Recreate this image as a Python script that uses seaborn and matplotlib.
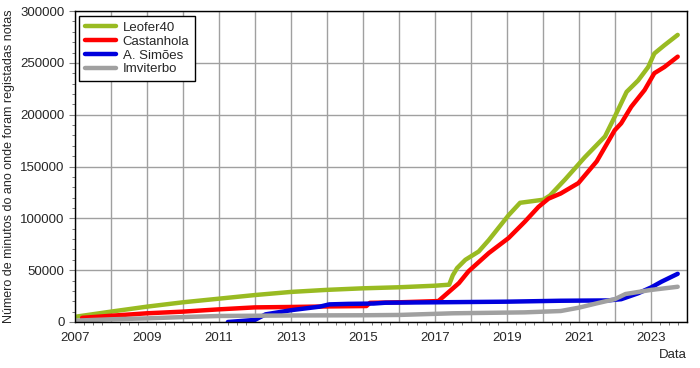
import pandas as pd
import seaborn as sns
import matplotlib.pyplot as plt
from matplotlib.ticker import MultipleLocator

# data (decimal year, cumulative minutes)
leofer_x = [2007.0, 2008.0, 2009.0, 2010.0, 2011.0, 2012.0, 2013.0, 2014.0, 2015.0, 2016.0, 2017.0, 2017.4,
            2017.5, 2017.62, 2017.85, 2018.22, 2018.5, 2019.05, 2019.37, 2020.02, 2020.2, 2020.62, 2021.17,
            2021.73, 2022.0, 2022.33, 2022.65, 2022.93, 2023.1, 2023.38, 2023.75]
leofer_y = [5000, 10000, 14800, 19000, 22500, 26000, 29000, 31000, 32500, 33500, 35000, 36000,
            45000, 52000, 60000, 68000, 79000, 103000, 115000, 118000, 122000, 137500, 159000,
            179000, 198000, 222000, 233000, 246000, 259000, 267000, 277000]

castanhola_x = [2007.2, 2008.0, 2009.0, 2010.0, 2011.0, 2012.0, 2013.0, 2014.0, 2015.1, 2015.2, 2016.0,
                2017.1, 2017.39, 2017.67, 2017.94, 2018.5, 2019.05, 2019.5, 2019.88, 2020.16, 2020.5,
                2020.99, 2021.5, 2022.0, 2022.18, 2022.46, 2022.83, 2023.1, 2023.38, 2023.75]
castanhola_y = [4000, 6000, 8400, 10000, 12200, 14100, 14500, 15000, 15400, 18500, 19000,
                20200, 29000, 37500, 49000, 66500, 81000, 96700, 111000, 119000, 124000,
                134000, 155000, 185000, 191700, 207700, 223800, 240000, 246000, 256000]

simoes_x = [2011.25, 2012.0, 2012.3, 2013.05, 2013.8, 2014.07, 2014.6, 2015.3, 2015.63, 2017.0, 2019.0,
            2020.5, 2021.8, 2022.18, 2022.65, 2023.02, 2023.3, 2023.75]
simoes_y = [0, 2000, 7400, 11600, 14800, 17000, 17500, 17800, 18600, 19000, 19600,
            20500, 20800, 22000, 27700, 33500, 38900, 46500]

imviterbo_x = [2007.0, 2008.0, 2009.0, 2010.2, 2011.0, 2013.0, 2015.0, 2016.0, 2017.5, 2019.5, 2020.5,
               2021.0, 2021.5, 2022.0, 2022.3, 2023.0, 2023.75]
imviterbo_y = [1300, 2600, 3500, 5000, 5800, 6300, 6500, 6800, 8400, 9300, 10600,
               13800, 18000, 22000, 27000, 30900, 34000]

names = ["Leofer40", "Castanhola", "A. Simões", "Imviterbo"]
colors = ["#99bb22", "#ff0000", "#0000dd", "#a0a0a0"]

frames = []
for nm, xs, ys in zip(names, [leofer_x, castanhola_x, simoes_x, imviterbo_x],
                      [leofer_y, castanhola_y, simoes_y, imviterbo_y]):
    frames.append(pd.DataFrame({"Data": xs, "minutos": ys, "user": nm}))
df = pd.concat(frames, ignore_index=True)

sns.set_style("ticks")
plt.rcParams["font.family"] = ["Liberation Sans", "DejaVu Sans"]

fig = plt.figure(figsize=(7, 3.68), dpi=100)
ax = fig.add_axes([0.107, 0.125, 0.874, 0.845])

sns.lineplot(data=df, x="Data", y="minutos", hue="user", hue_order=names,
             palette=colors, linewidth=3.2, ax=ax, sort=True, estimator=None)
for ln in ax.get_lines():
    ln.set_solid_capstyle("round")

ax.set_xlim(2007, 2024)
ax.set_ylim(0, 300000)
ax.xaxis.set_minor_locator(MultipleLocator(0.25))
ax.yaxis.set_major_locator(MultipleLocator(50000))
ax.yaxis.set_minor_locator(MultipleLocator(10000))
ax.set_xticks(range(2007, 2025), minor=False)
ax.set_xticklabels([str(y) if (y - 2007) % 2 == 0 else "" for y in range(2007, 2025)])
ax.grid(True, which="major", color="#a0a0a0", linewidth=1)
ax.set_axisbelow(True)
ax.tick_params(axis="both", which="major", labelsize=9.5, length=4, color="#808080")
ax.tick_params(axis="both", which="minor", length=2.5, color="#606060")
ax.tick_params(axis="x", which="major", length=0, pad=7)
for s in ax.spines.values():
    s.set_color("black")
    s.set_linewidth(1)

ax.set_ylabel("Número de minutos do ano onde foram registadas notas", fontsize=9)
ax.set_xlabel("Data", fontsize=9.5, loc="right")

leg = ax.legend(loc="upper left", fontsize=9.5, frameon=True, fancybox=False,
                edgecolor="black", framealpha=1, handlelength=2.4, handletextpad=0.5,
                borderpad=0.45, labelspacing=0.12, borderaxespad=0,
                bbox_to_anchor=(0.006, 0.985))
leg.get_frame().set_linewidth(1)
for h in leg.get_lines():
    h.set_linewidth(3.2)

fig.savefig("out.png", dpi=100)
